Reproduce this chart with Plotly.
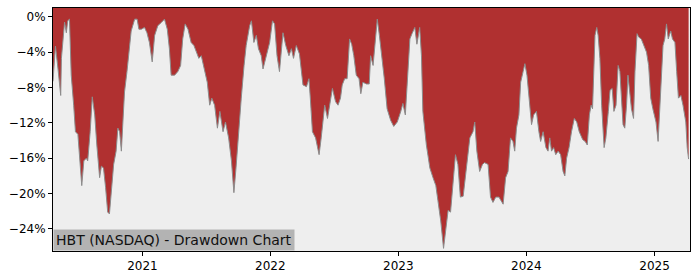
import plotly.graph_objects as go

# Drawdown series (date, drawdown in %)
dates = [
    "2020-04-21", "2020-04-28", "2020-05-05", "2020-05-08", "2020-05-13", "2020-05-15", "2020-05-19",
    "2020-05-24", "2020-05-29", "2020-06-02", "2020-06-07", "2020-06-12", "2020-06-19", "2020-06-24",
    "2020-07-01", "2020-07-06", "2020-07-12", "2020-07-18", "2020-07-25", "2020-07-29", "2020-08-05",
    "2020-08-11", "2020-08-18", "2020-08-24", "2020-09-01", "2020-09-06", "2020-09-12", "2020-09-18",
    "2020-09-24", "2020-09-29", "2020-10-04", "2020-10-11", "2020-10-18", "2020-10-23", "2020-10-28",
    "2020-11-02", "2020-11-06", "2020-11-11", "2020-11-18", "2020-11-24", "2020-11-30", "2020-12-10",
    "2020-12-17", "2020-12-22", "2020-12-29", "2021-01-07", "2021-01-14", "2021-01-21", "2021-01-29",
    "2021-02-05", "2021-02-14", "2021-02-24", "2021-03-05", "2021-03-13", "2021-03-19", "2021-03-24",
    "2021-04-03", "2021-04-12", "2021-04-20", "2021-04-26", "2021-05-03", "2021-05-11", "2021-05-20",
    "2021-05-28", "2021-06-04", "2021-06-11", "2021-06-18", "2021-06-27", "2021-07-05", "2021-07-12",
    "2021-07-18", "2021-07-26", "2021-08-03", "2021-08-10", "2021-08-19", "2021-08-26", "2021-09-04",
    "2021-09-12", "2021-09-19", "2021-09-25", "2021-10-02", "2021-10-10", "2021-10-18", "2021-10-24",
    "2021-11-03", "2021-11-08", "2021-11-15", "2021-11-22", "2021-11-28", "2021-12-06", "2021-12-11",
    "2021-12-20", "2021-12-30", "2022-01-07", "2022-01-13", "2022-01-20", "2022-01-27", "2022-02-06",
    "2022-02-14", "2022-02-23", "2022-03-02", "2022-03-08", "2022-03-16", "2022-03-25", "2022-04-04",
    "2022-04-14", "2022-04-21", "2022-04-25", "2022-05-01", "2022-05-10", "2022-05-20", "2022-05-26",
    "2022-06-05", "2022-06-13", "2022-06-19", "2022-06-27", "2022-07-06", "2022-07-13", "2022-07-20",
    "2022-07-25", "2022-08-01", "2022-08-08", "2022-08-15", "2022-08-21", "2022-08-27", "2022-09-03",
    "2022-09-11", "2022-09-16", "2022-09-22", "2022-10-02", "2022-10-10", "2022-10-14", "2022-10-21",
    "2022-10-28", "2022-11-02", "2022-11-08", "2022-11-15", "2022-11-22", "2022-11-30", "2022-12-10",
    "2022-12-19", "2022-12-29", "2023-01-08", "2023-01-14", "2023-01-21", "2023-01-27", "2023-02-03",
    "2023-02-09", "2023-02-17", "2023-02-23", "2023-03-03", "2023-03-08", "2023-03-12", "2023-03-22",
    "2023-04-01", "2023-04-10", "2023-04-18", "2023-04-24", "2023-05-02", "2023-05-10", "2023-05-15",
    "2023-05-23", "2023-05-30", "2023-06-06", "2023-06-13", "2023-06-20", "2023-06-27", "2023-07-05",
    "2023-07-09", "2023-07-17", "2023-07-24", "2023-08-02", "2023-08-07", "2023-08-13", "2023-08-21",
    "2023-08-29", "2023-09-04", "2023-09-14", "2023-09-21", "2023-09-28", "2023-10-06", "2023-10-15",
    "2023-10-27", "2023-11-03", "2023-11-10", "2023-11-17", "2023-11-24", "2023-11-29", "2023-12-04",
    "2023-12-11", "2023-12-16", "2023-12-23", "2023-12-28", "2024-01-03", "2024-01-09", "2024-01-16",
    "2024-01-22", "2024-01-30", "2024-02-06", "2024-02-11", "2024-02-18", "2024-02-26", "2024-03-03",
    "2024-03-08", "2024-03-13", "2024-03-19", "2024-03-25", "2024-04-01", "2024-04-08", "2024-04-15",
    "2024-04-20", "2024-04-25", "2024-05-02", "2024-05-09", "2024-05-17", "2024-05-24", "2024-05-31",
    "2024-06-10", "2024-06-17", "2024-06-23", "2024-06-29", "2024-07-04", "2024-07-08", "2024-07-15",
    "2024-07-20", "2024-07-24", "2024-07-29", "2024-08-03", "2024-08-10", "2024-08-15", "2024-08-22",
    "2024-08-27", "2024-09-02", "2024-09-07", "2024-09-13", "2024-09-19", "2024-09-24", "2024-09-29",
    "2024-10-03", "2024-10-08", "2024-10-13", "2024-10-17", "2024-10-22", "2024-10-27", "2024-11-02",
    "2024-11-06", "2024-11-12", "2024-11-17", "2024-11-24", "2024-12-01", "2024-12-09", "2024-12-15",
    "2024-12-21", "2024-12-27", "2025-01-05", "2025-01-11", "2025-01-16", "2025-01-21", "2025-01-25",
    "2025-01-30", "2025-02-04", "2025-02-09", "2025-02-16", "2025-02-21", "2025-02-28", "2025-03-05",
    "2025-03-10", "2025-03-17", "2025-03-23", "2025-03-31", "2025-04-04", "2025-04-08",
]
drawdown = [
    -7.3, -3.3, -5.8, -6.8, -8.9, -4.7, -2.6,
    -0.6, -1.8, -0.45, -0.26, -6.6, -10.0, -13.0,
    -13.3, -16.3, -19.1, -16.3, -16.0, -16.3, -13.0,
    -9.05, -11.1, -14.5, -18.2, -16.9, -17.1, -19.3,
    -22.1, -22.3, -19.7, -16.7, -15.2, -12.6, -13.0,
    -15.2, -12.2, -8.5, -6.2, -3.6, -1.6, -0.26,
    -0.26, -1.4, -1.4, -1.2, -1.8, -2.9, -5.1,
    -2.1, -1.0, -0.64, -0.26, -1.4, -3.6, -6.6,
    -6.6, -6.2, -5.5, -2.5, -0.8, -1.4, -2.9,
    -3.25, -4.0, -4.7, -4.4, -5.9, -7.4, -10.0,
    -9.2, -10.0, -12.6, -10.7, -13.0, -11.9, -13.7,
    -16.3, -19.9, -17.1, -13.0, -9.2, -5.5, -3.25,
    -1.0, -0.45, -2.9, -2.1, -3.6, -4.4, -5.9,
    -4.4, -2.9, -0.45, -0.8, -4.4, -6.2, -1.8,
    -3.25, -4.4, -3.6, -4.7, -3.25, -4.2, -7.7,
    -7.9, -7.0, -9.2, -13.0, -13.7, -15.6, -13.7,
    -10.0, -11.5, -10.0, -8.1, -9.6, -10.0, -9.2,
    -7.7, -7.0, -7.0, -2.5, -3.1, -4.4, -6.6,
    -7.0, -8.7, -7.4, -7.6, -7.6, -4.4, -5.5,
    -2.5, -0.26, -2.1, -4.4, -7.0, -10.4, -11.7,
    -12.4, -11.9, -10.7, -9.8, -11.1, -7.0, -2.5,
    -1.9, -1.2, -3.1, -1.2, -4.4, -10.7, -14.5,
    -17.1, -18.2, -19.1, -20.8, -23.1, -26.2, -24.6,
    -21.9, -22.1, -18.6, -15.6, -16.7, -20.4, -20.3,
    -19.0, -16.3, -13.7, -13.0, -11.9, -15.2, -17.5,
    -16.7, -16.5, -16.7, -20.4, -21.0, -20.4, -20.4,
    -21.2, -18.2, -17.5, -13.7, -14.1, -15.2, -12.6,
    -11.1, -7.4, -6.2, -5.3, -6.6, -9.2, -12.2,
    -11.1, -10.7, -13.0, -14.1, -13.0, -14.8, -15.2,
    -13.7, -15.2, -14.8, -15.6, -15.2, -15.6, -17.5,
    -18.0, -16.0, -14.8, -13.0, -11.5, -11.9, -13.0,
    -13.9, -14.1, -14.5, -11.1, -10.0, -10.4, -2.1,
    -1.2, -2.1, -4.7, -10.0, -14.8, -13.7, -10.7,
    -8.3, -8.1, -10.7, -10.0, -5.5, -6.2, -9.6,
    -12.2, -12.6, -10.0, -6.6, -8.9, -10.4, -11.5,
    -6.2, -1.9, -2.3, -2.5, -3.25, -4.0, -5.5,
    -9.2, -10.4, -11.9, -14.1, -10.7, -6.2, -3.25,
    -2.5, -0.8, -2.5, -1.6, -2.5, -2.9, -6.2,
    -9.2, -8.9, -10.0, -11.9, -14.8, -16.1,
]

y_ticks = [0, -4, -8, -12, -16, -20, -24]
y_tick_labels = ["0%", "\u22124%", "\u22128%", "\u221212%", "\u221216%", "\u221220%", "\u221224%"]
x_ticks = ["2021-01-01", "2022-01-01", "2023-01-01", "2024-01-01", "2025-01-01"]
x_tick_labels = ["2021", "2022", "2023", "2024", "2025"]
title_text = "HBT (NASDAQ) - Drawdown Chart"

y_top = 1.0
y_bottom = -26.5

fig = go.Figure()
fig.add_trace(go.Scatter(
    x=dates, y=[y_top] * len(dates), mode="lines",
    line=dict(width=0, color="rgba(0,0,0,0)"), hoverinfo="skip", showlegend=False,
))
fig.add_trace(go.Scatter(
    x=dates, y=drawdown, mode="lines", fill="tonexty",
    fillcolor="#b03030", line=dict(color="#8c8c8c", width=1),
    showlegend=False,
))

fig.update_layout(
    width=700, height=280,
    margin=dict(l=53, r=10, t=7, b=28),
    paper_bgcolor="white", plot_bgcolor="#eeeeee",
    font=dict(family="DejaVu Sans", size=12, color="black"),
    xaxis=dict(
        type="date", range=["2020-04-21", "2025-04-12"],
        tickvals=x_ticks, ticktext=x_tick_labels,
        ticks="outside", ticklen=4, tickcolor="black", tickwidth=1,
        showgrid=False, zeroline=False,
        showline=True, linecolor="black", linewidth=1, mirror=True,
    ),
    yaxis=dict(
        range=[y_bottom, y_top],
        tickvals=y_ticks, ticktext=y_tick_labels,
        ticks="outside", ticklen=4, tickcolor="black", tickwidth=1,
        showgrid=False, zeroline=False,
        showline=True, linecolor="black", linewidth=1, mirror=True,
    ),
    annotations=[dict(
        text=title_text, xref="paper", yref="paper", x=0, y=0,
        xanchor="left", yanchor="bottom", showarrow=False,
        font=dict(family="DejaVu Sans", size=14, color="#111111"),
        bgcolor="#b3b3b3", borderpad=2,
    )],
)

fig.write_html("out.html")
